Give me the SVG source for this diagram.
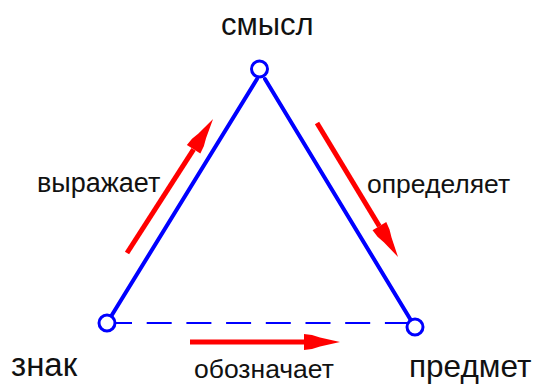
<svg xmlns="http://www.w3.org/2000/svg" width="541" height="385" viewBox="0 0 541 385">
  <style>
    text { font-family: "Liberation Sans", Arial, sans-serif; fill: #111; }
    .edge { stroke: #0000ff; stroke-width: 4; fill: none; stroke-linecap: round; }
    .dash { stroke: #0000ff; stroke-width: 2; fill: none; stroke-dasharray: 25 14.7; }
    .red { stroke: #ff0000; stroke-width: 5; fill: none; marker-end: url(#head); }
    .node { fill: #fff; stroke: #0000ff; stroke-width: 3; }
  </style>
  <defs>
    <marker id="head" markerUnits="userSpaceOnUse" markerWidth="40" markerHeight="20" refX="0" refY="0" orient="auto" overflow="visible">
      <path d="M0,-8 L8,-7 L16,-4.5 L36,0 L16,4.5 L8,7 L0,8 Z" fill="#ff0000"/>
    </marker>
  </defs>
  <rect width="541" height="385" fill="#fff"/>
  <g id="connectors">
    <line class="edge" x1="107" y1="323" x2="257" y2="79"/>
    <line class="edge" x1="265" y1="79" x2="415" y2="327"/>
    <line class="dash" x1="107" y1="323" x2="412" y2="323"/>
    <line class="red" x1="127" y1="253" x2="193.6" y2="149.3"/>
    <line class="red" x1="317" y1="123" x2="379.4" y2="226.2"/>
    <line class="red" x1="190" y1="342" x2="304" y2="342"/>
    <text x="37" y="192" font-size="27">выражает</text>
    <text x="367" y="193" font-size="26.5">определяет</text>
    <text x="194" y="378" font-size="26.5">обозначает</text>
  </g>
  <g id="smysl">
    <circle class="node" cx="259.5" cy="69" r="8"/>
    <text x="221" y="35" font-size="31">смысл</text>
  </g>
  <g id="znak">
    <circle class="node" cx="107" cy="323" r="8"/>
    <text x="11" y="376" font-size="33">знак</text>
  </g>
  <g id="predmet">
    <circle class="node" cx="415" cy="327" r="8"/>
    <text x="409" y="377" font-size="31.5">предмет</text>
  </g>
</svg>
